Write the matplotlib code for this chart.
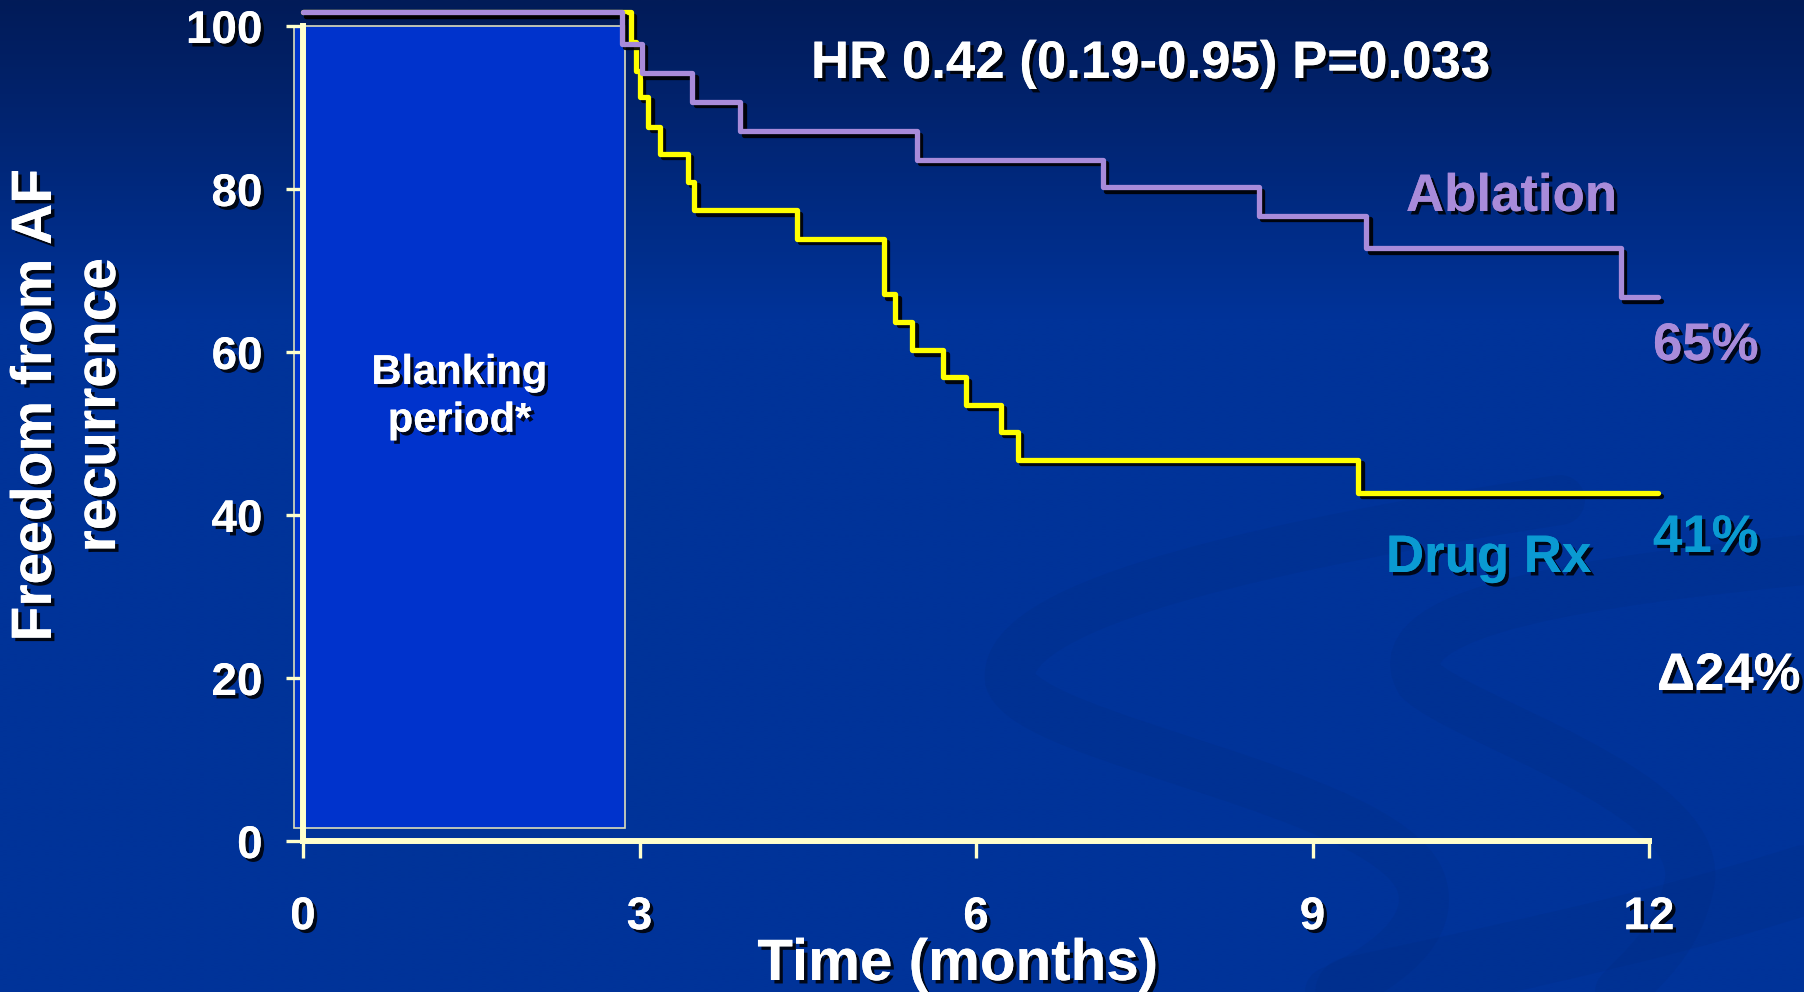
import numpy as np
import matplotlib.pyplot as plt
import matplotlib.patheffects as pe
from matplotlib import transforms
from matplotlib.patches import Rectangle, PathPatch
from matplotlib.path import Path

plt.rcParams['font.family'] = ['Liberation Sans', 'DejaVu Sans']
plt.rcParams['font.weight'] = 'bold'

# Kaplan-Meier steps (months, % free from AF)
abl_t = [0, 2.84, 3.02, 3.47, 3.90, 5.47, 7.13, 8.52, 9.48, 11.75, 12.08]
abl_s = [100, 96.1, 92.5, 89.0, 85.4, 81.9, 78.5, 75.0, 71.0, 65.0, 65.0]

drug_t = [0, 2.92, 2.97, 3.00, 3.08, 3.18, 3.43, 3.49, 4.40, 5.18, 5.28,
          5.43, 5.71, 5.91, 6.22, 6.37, 9.41, 12.08]
drug_s = [100, 96.3, 92.8, 89.6, 85.9, 82.6, 79.2, 75.7, 72.2, 65.4, 62.0,
          58.5, 55.2, 51.8, 48.5, 45.1, 41.0, 41.0]

blank_start, blank_end = -0.08, 2.87
xticks = [0, 3, 6, 9, 12]
yticks = [0, 20, 40, 60, 80, 100]

CREAM = '#FFFFCC'
PURPLE = '#A88BDA'
TEAL = '#0A9AD2'

shadow_txt = [pe.withSimplePatchShadow(offset=(2.5, -2.5), shadow_rgbFace='black', alpha=0.85),
              pe.Normal()]
shadow_line = [pe.SimpleLineShadow(offset=(2.5, -2.5), shadow_color='black', alpha=0.9),
               pe.Normal()]

fig = plt.figure(figsize=(18.04, 9.92), dpi=100)

# background: dark navy gradient at the top, plus faint swooshes
bg = fig.add_axes([0, 0, 1, 1], zorder=-10)
bg.set_xlim(0, 1804)
bg.set_ylim(992, 0)
bg.axis('off')
top = np.array([0x02, 0x1B, 0x58]) / 255
mid = np.array([0x00, 0x33, 0x99]) / 255
yy = np.linspace(0, 1, 400)
w = np.clip(yy / 0.32, 0, 1)[:, None]
grad = top * (1 - w) + mid * w
bg.imshow(np.repeat(grad[:, None, :], 2, axis=1), extent=(0, 1804, 992, 0),
          aspect='auto', interpolation='bilinear')

def swoosh(pts, lw, alpha):
    codes = [Path.MOVETO] + [Path.CURVE4] * (len(pts) - 1)
    bg.add_patch(PathPatch(Path(pts, codes), fill=False, lw=lw,
                           edgecolor='#002A80', alpha=alpha, capstyle='round'))

swoosh([(1560, 500), (1300, 540), (1000, 600), (1010, 680),
        (1030, 740), (1380, 790), (1420, 880),
        (1440, 930), (1380, 970), (1330, 992)], 36, 0.22)
swoosh([(1804, 560), (1600, 580), (1380, 610), (1420, 680),
        (1460, 720), (1700, 790), (1690, 880),
        (1680, 940), (1640, 970), (1620, 992)], 36, 0.22)
swoosh([(1804, 880), (1650, 930), (1450, 970), (1350, 992)], 50, 0.22)

ax = fig.add_axes([303 / 1804, 1 - 841 / 992, 1346 / 1804, 815 / 992])
ax.set_facecolor('none')
ax.set_xlim(0, 12)
ax.set_ylim(0, 100)

for side in ['top', 'right']:
    ax.spines[side].set_visible(False)
for side in ['left', 'bottom']:
    ax.spines[side].set_color(CREAM)
    ax.spines[side].set_linewidth(4.3)
    ax.spines[side].set_zorder(4)

ax.set_xticks(xticks)
ax.set_yticks(yticks)
ax.tick_params(axis='both', colors=CREAM, length=12, width=2.4, direction='out')
ax.tick_params(axis='x', pad=27, labelsize=33, labelcolor='white')
ax.tick_params(axis='y', pad=17, labelsize=33, labelcolor='white')
for lab in ax.get_xticklabels() + ax.get_yticklabels():
    lab.set_fontweight('bold')
    lab.set_path_effects(shadow_txt)

# blanking period box
ax.add_patch(Rectangle((blank_start, 1.6), blank_end - blank_start, 100 - 1.6,
                       facecolor='#0033CC', edgecolor='#DDDDBB', lw=1.2,
                       clip_on=False, zorder=1))
ax.text((blank_start + blank_end) / 2, 54.5, 'Blanking\nperiod*', color='white',
        fontsize=30, fontweight='bold', ha='center', va='center',
        linespacing=1.25, path_effects=shadow_txt, zorder=2)

# survival curves, drawn slightly raised above the grid
lift = transforms.offset_copy(ax.transData, fig=fig, x=0, y=10, units='points')
ax.step(drug_t, drug_s, where='post', color='#FFFF00', lw=3.8, transform=lift,
        clip_on=False, zorder=5, path_effects=shadow_line, solid_capstyle='round')
ax.step(abl_t, abl_s, where='post', color=PURPLE, lw=3.8, transform=lift,
        clip_on=False, zorder=6, path_effects=shadow_line, solid_capstyle='round')

# annotations
fig.text(811 / 1804, 1 - 78 / 992, 'HR 0.42 (0.19-0.95) P=0.033', color='white',
         fontsize=38, fontweight='bold', ha='left', va='baseline', path_effects=shadow_txt)
fig.text(1406 / 1804, 1 - 211 / 992, 'Ablation', color=PURPLE, fontsize=38,
         fontweight='bold', ha='left', va='baseline', path_effects=shadow_txt)
fig.text(1653 / 1804, 1 - 360 / 992, '65%', color=PURPLE, fontsize=38,
         fontweight='bold', ha='left', va='baseline', path_effects=shadow_txt)
fig.text(1386 / 1804, 1 - 572 / 992, 'Drug Rx', color=TEAL, fontsize=38,
         fontweight='bold', ha='left', va='baseline', path_effects=shadow_txt)
fig.text(1653 / 1804, 1 - 552 / 992, '41%', color=TEAL, fontsize=38,
         fontweight='bold', ha='left', va='baseline', path_effects=shadow_txt)
fig.text(1657 / 1804, 1 - 690 / 992, '\u039424%', color='white', fontsize=38,
         fontweight='bold', ha='left', va='baseline', path_effects=shadow_txt)

# axis titles
fig.text(958 / 1804, 1 - 980 / 992, 'Time (months)', color='white', fontsize=42,
         fontweight='bold', ha='center', va='baseline', path_effects=shadow_txt)
fig.text(68 / 1804, 1 - 405 / 992, 'Freedom from AF\nrecurrence', color='white',
         fontsize=41, fontweight='bold', ha='center', va='center', rotation=90,
         linespacing=1.24, multialignment='center', path_effects=shadow_txt)

fig.savefig('out.png', dpi=100)
